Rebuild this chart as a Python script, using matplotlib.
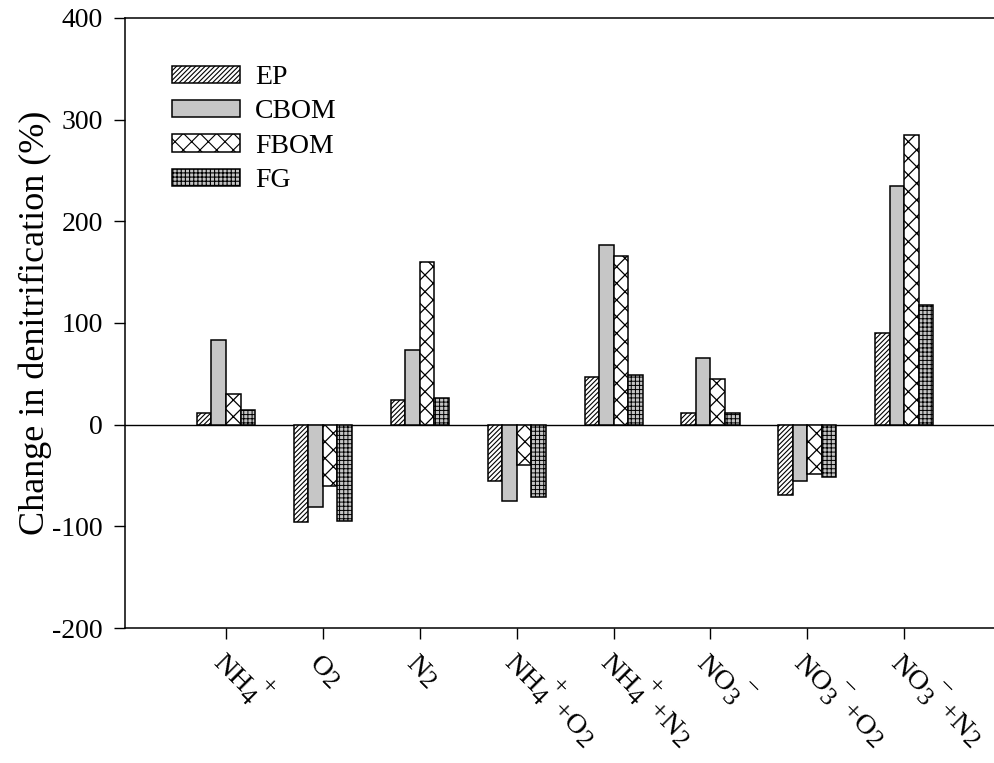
import numpy as np
import matplotlib
matplotlib.use("Agg")
import matplotlib.pyplot as plt
import matplotlib.transforms as mtransforms

try:
    import matplotlib._mathtext as _mtx
    _mtx.SHRINK_FACTOR = 0.9
    _mtx.FontConstantsBase.sup1 = 1.3
except Exception:
    pass

plt.rcParams['font.family'] = ['Liberation Serif', 'DejaVu Serif']
plt.rcParams['mathtext.fontset'] = 'custom'
plt.rcParams['mathtext.rm'] = 'Liberation Serif'
plt.rcParams['mathtext.it'] = 'Liberation Serif:italic'
plt.rcParams['mathtext.bf'] = 'Liberation Serif:bold'
plt.rcParams['hatch.linewidth'] = 0.8

# ---- data ----
categories = ["NH$_4^{\\,+}$", "O$_2$", "N$_2$", "NH$_4^{\\,+}$+O$_2$",
              "NH$_4^{\\,+}$+N$_2$", "NO$_3^{\\,-}$", "NO$_3^{\\,-}$+O$_2$",
              "NO$_3^{\\,-}$+N$_2$"]
series_names = ["EP", "CBOM", "FBOM", "FG"]
ep = [11, -96, 24, -55, 47, 11, -69, 90]
cbom = [83, -81, 73, -75, 177, 66, -55, 235]
fbom = [30, -60, 160, -40, 166, 45, -49, 285]
fg = [14, -95, 26, -71, 49, 11, -51, 118]
y_ticks = [-200, -100, 0, 100, 200, 300, 400]

fig = plt.figure(figsize=(9.95, 7.63), dpi=100)
ax = fig.add_axes([125/995, 1 - 628/763, 1 - 125/995, (628 - 18)/763])

x = np.arange(len(categories))
w = 0.15
styles = [
    (dict(facecolor='white', hatch='///////'), 0.8),
    (dict(facecolor='#c6c6c6', hatch=None), 0.8),
    (dict(facecolor='white', hatch='xx'), 0.9),
    (dict(facecolor='#c4c4c4', hatch='++++'), 0.7),
]
for i, (vals, name, (st, hlw)) in enumerate(zip([ep, cbom, fbom, fg], series_names, styles)):
    with plt.rc_context({'hatch.linewidth': hlw}):
        ax.bar(x + (i - 1.5) * w, vals, width=w, edgecolor='black', linewidth=1.1,
               label=name, zorder=3, **st)

ax.axhline(0, color='black', linewidth=1.0, zorder=2)

ax.set_ylim(-200, 400)
ax.set_xlim(-1.042, 7.936)
ax.set_yticks(y_ticks)
ax.set_yticklabels([str(v) for v in y_ticks], fontsize=20)
ax.set_xticks(x)
ax.set_xticklabels([])
ax.tick_params(axis='both', direction='out', length=8, width=1.0)
ax.tick_params(axis='y', pad=8)

# rotated category labels, anchored at baseline-left below each tick
base = mtransforms.blended_transform_factory(ax.transData, ax.transAxes)
off = mtransforms.ScaledTranslation(-15 / 100, -36 / 100, fig.dpi_scale_trans)
for xi, lab in zip(x, categories):
    ax.text(xi, 0, lab, transform=base + off, rotation=-45, rotation_mode='anchor',
            ha='left', va='baseline', fontsize=20.5, clip_on=False)

ax.spines['right'].set_visible(False)
for s in ['left', 'bottom', 'top']:
    ax.spines[s].set_linewidth(1.1)

ax.set_ylabel("Change in denitrification (%)", fontsize=26)
ax.yaxis.set_label_coords(-0.084, 0.5)

leg = ax.legend(loc='upper left', bbox_to_anchor=(0.054, 0.923), frameon=False,
                fontsize=20, handlelength=2.45, handleheight=0.58,
                handletextpad=0.55, labelspacing=0.34, borderpad=0,
                borderaxespad=0)

fig.savefig("out.png", dpi=100)
